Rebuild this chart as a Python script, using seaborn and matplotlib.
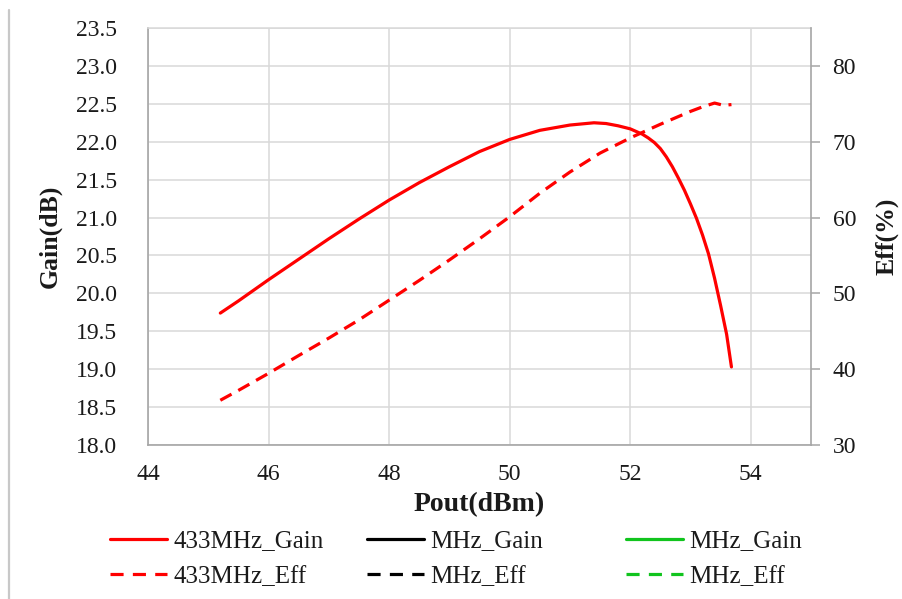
import numpy as np
import pandas as pd
import matplotlib
matplotlib.use("Agg")
import matplotlib.pyplot as plt
import seaborn as sns
from matplotlib.lines import Line2D

# ---- data ----
pout_gain = [45.2, 45.5, 46.0, 46.5, 47.0, 47.5, 48.0, 48.5, 49.0, 49.5, 50.0,
             50.5, 51.0, 51.4, 51.6, 51.8, 52.0, 52.2, 52.3, 52.4, 52.5, 52.6,
             52.7, 52.8, 52.9, 53.0, 53.1, 53.2, 53.3, 53.4, 53.5, 53.6, 53.68]
gain_433 = [19.74, 19.90, 20.18, 20.45, 20.72, 20.98, 21.23, 21.46, 21.67, 21.87,
            22.03, 22.15, 22.22, 22.25, 22.24, 22.21, 22.17, 22.10, 22.05, 21.99,
            21.91, 21.80, 21.67, 21.52, 21.36, 21.18, 20.99, 20.77, 20.52, 20.20,
            19.84, 19.46, 19.03]

pout_eff = [45.2, 45.5, 46.0, 46.5, 47.0, 47.5, 48.0, 48.5, 49.0, 49.5, 50.0,
            50.5, 51.0, 51.5, 52.0, 52.5, 53.0, 53.2, 53.4, 53.55, 53.68]
eff_433 = [35.9, 37.2, 39.45, 41.8, 44.1, 46.5, 49.1, 51.7, 54.4, 57.2, 60.1,
           63.2, 66.0, 68.5, 70.5, 72.3, 74.0, 74.6, 75.1, 74.8, 74.9]

x_ticks = [44, 46, 48, 50, 52, 54]
gain_ticks = [18.0, 18.5, 19.0, 19.5, 20.0, 20.5, 21.0, 21.5, 22.0, 22.5, 23.0, 23.5]
eff_ticks = [30, 40, 50, 60, 70, 80]
legend_labels = [["433MHz_Gain", "433MHz_Eff"],
                 ["MHz_Gain", "MHz_Eff"],
                 ["MHz_Gain", "MHz_Eff"]]
legend_colors = ["#ff0000", "#000000", "#11c41e"]

df_gain = pd.DataFrame({"Pout": pout_gain, "Gain": gain_433})
df_eff = pd.DataFrame({"Pout": pout_eff, "Eff": eff_433})

# ---- style ----
sns.set_theme(style="white")
plt.rcParams["font.family"] = ["Liberation Serif", "DejaVu Serif"]

W, H = 903, 599
fig = plt.figure(figsize=(W / 100, H / 100), dpi=100)
fig.patch.set_facecolor("white")

ax_l, ax_r, ax_t, ax_b = 148, 811, 28, 445
ax = fig.add_axes([ax_l / W, (H - ax_b) / H, (ax_r - ax_l) / W, (ax_b - ax_t) / H])
ax2 = ax.twinx()

RED = "#ff0000"
DASH = (0, (4, 2.4))
LW = 2.3

sns.lineplot(data=df_gain, x="Pout", y="Gain", ax=ax, color=RED, lw=LW,
             sort=False, estimator=None)
sns.lineplot(data=df_eff, x="Pout", y="Eff", ax=ax2, color=RED, lw=LW,
             linestyle=DASH, sort=False, estimator=None)
for l in ax.lines + ax2.lines:
    l.set_solid_joinstyle("round")
    l.set_dash_joinstyle("round")

SPINE = "#a6a6a6"
GRID = "#d9d9d9"
TXT = "#1a1a1a"

ax.set_xlim(44, 55)
ax.set_ylim(18, 23.5)
ax2.set_ylim(30, 85)

ax.set_xticks(x_ticks)
ax.set_xticklabels([str(v) for v in x_ticks])
ax.set_yticks(gain_ticks)
ax.set_yticklabels([f"{v:.1f}" for v in gain_ticks])
ax2.set_yticks(eff_ticks)
ax2.set_yticklabels([str(v) for v in eff_ticks])

ax.grid(True, color=GRID, lw=1.1)
ax.set_axisbelow(True)
ax2.grid(False)

ax.tick_params(axis="y", length=0, pad=22, labelsize=17, labelcolor=TXT)
ax.tick_params(axis="x", length=0, pad=14, labelsize=17, labelcolor=TXT)
ax2.tick_params(axis="y", right=True, direction="out", length=6.5, width=1.1,
                color=SPINE, pad=9, labelsize=17, labelcolor=TXT)

for s in ["left", "bottom"]:
    ax.spines[s].set_color(SPINE)
    ax.spines[s].set_linewidth(1.2)
ax.spines["top"].set_color(GRID)
ax.spines["top"].set_linewidth(1.1)
ax.spines["right"].set_visible(False)
for s in ["left", "bottom", "top"]:
    ax2.spines[s].set_visible(False)
ax2.spines["right"].set_color(SPINE)
ax2.spines["right"].set_linewidth(1.2)

ax.set_xlabel("Pout(dBm)", fontsize=20, fontweight="bold", color=TXT)
ax.xaxis.set_label_coords(0.5, (ax_b - 505) / (ax_b - ax_t))
ax.xaxis.label.set_va("center")

ax.set_ylabel("Gain(dB)", fontsize=18.5, fontweight="bold", color=TXT)
ax.yaxis.set_label_coords((50 - ax_l) / (ax_r - ax_l), 0.5)
ax.yaxis.label.set_va("center")

ax2.set_ylabel("Eff(%)", fontsize=18.5, fontweight="bold", color=TXT)
ax2.yaxis.set_label_coords((887 - ax_l) / (ax_r - ax_l), 0.5)
ax2.yaxis.label.set_va("center")

# ---- legend: three columns placed individually ----
col_x = [110, 367, 626]
for cx, labels, col in zip(col_x, legend_labels, legend_colors):
    handles = [Line2D([], [], color=col, lw=LW),
               Line2D([], [], color=col, lw=LW, linestyle=(0, (4.1, 2.9)))]
    leg = fig.legend(handles, labels, loc="upper left",
                     bbox_to_anchor=(cx / W, (H - 530) / H),
                     frameon=False, borderpad=0, borderaxespad=0,
                     handlelength=2.28, handletextpad=0.24, labelspacing=0.52,
                     fontsize=18)
    for t in leg.get_texts():
        t.set_color(TXT)

# left border line of the chart area
fig.add_artist(Line2D([9 / W, 9 / W], [0, (H - 10) / H], transform=fig.transFigure,
                      color="#c8c8c8", lw=1.6))

fig.savefig("out.png", dpi=100, facecolor="white")
